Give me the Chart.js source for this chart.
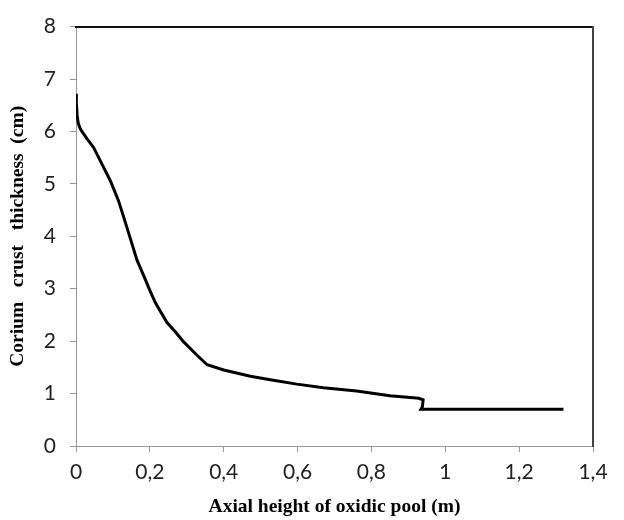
<!DOCTYPE html>
<html>
<head>
<meta charset="utf-8">
<script src="https://cdn.jsdelivr.net/npm/chart.js@4.4.1/dist/chart.umd.min.js"></script>
<style>
  body { margin: 0; background: #fff; }
</style>
</head>
<body>
<canvas id="crust" width="624" height="520"></canvas>
<script>
// axial height (m) and crust thickness (cm)
const heightX = [0, 0.001, 0.003, 0.006, 0.011, 0.016, 0.03, 0.048, 0.07, 0.093, 0.115, 0.129, 0.147, 0.165, 0.185, 0.2, 0.215, 0.246, 0.27, 0.291, 0.325, 0.355, 0.4, 0.472, 0.53, 0.598, 0.67, 0.76, 0.85, 0.928, 0.94, 0.938, 0.934, 0.95, 1.32]
const thicknessY = [6.72, 6.55, 6.31, 6.16, 6.06, 6.0, 5.86, 5.69, 5.38, 5.06, 4.68, 4.37, 3.96, 3.55, 3.22, 2.97, 2.73, 2.36, 2.17, 1.99, 1.75, 1.55, 1.45, 1.33, 1.26, 1.18, 1.11, 1.05, 0.96, 0.91, 0.88, 0.75, 0.70, 0.70, 0.70]

const xTitle = 'Axial height of oxidic pool (m)'
const yTitle = 'Corium   crust   thickness  (cm)'

function commaLabel(v){
    let r = Math.round(v * 10) / 10
    return r.toString().replace('.', ',')
}

let points = []
for(let i = 0; i < heightX.length; i++)
    points.push({x: heightX[i], y: thicknessY[i]})

const tickFont = {family: 'Lato', size: 21}
const titleFont = {family: '"Liberation Serif"', size: 19.5, weight: 'bold'}

const data = {
    datasets: [{
        data: points,
        borderColor: '#000',
        borderWidth: 3,
        pointRadius: 0,
        tension: 0,
        fill: false
    }]
}

const config = {
    type: 'line',
    data: data,
    options: {
        responsive: false,
        animation: false,
        layout: {padding: {left: 0, right: 31, top: 20, bottom: 0}},
        plugins: {legend: {display: false}, tooltip: {enabled: false}},
        scales: {
            x: {
                type: 'linear',
                min: 0, max: 1.4,
                ticks: {stepSize: 0.2, callback: commaLabel, font: tickFont, color: '#222', padding: 8, maxRotation: 0},
                grid: {drawOnChartArea: false, drawTicks: true, tickLength: 6, color: '#999'},
                border: {color: '#999', width: 1},
                title: {display: true, text: xTitle, font: titleFont, color: '#000', padding: {top: 0, bottom: 1}},
                afterFit: function(scale){ scale.height = 74 }
            },
            y: {
                min: 0, max: 8,
                ticks: {stepSize: 1, font: tickFont, color: '#222', padding: 14},
                grid: {drawOnChartArea: false, drawTicks: true, tickLength: 6, color: '#999'},
                border: {color: '#999', width: 1},
                title: {display: true, text: yTitle, font: titleFont, color: '#000', padding: {top: 6, bottom: 0}},
                afterFit: function(scale){ scale.width = 76 }
            },
            x2: {
                type: 'linear', position: 'top', min: 0, max: 1.4,
                ticks: {display: false},
                grid: {display: false},
                border: {color: '#111', width: 2},
                afterFit: function(scale){ scale.height = 0 }
            },
            y2: {
                position: 'right', min: 0, max: 8,
                ticks: {display: false},
                grid: {display: false},
                border: {color: '#444', width: 2},
                afterFit: function(scale){ scale.width = 0 }
            }
        }
    }
}

let ctx = document.getElementById('crust').getContext('2d')

new Chart(ctx, config)
</script>
</body>
</html>
